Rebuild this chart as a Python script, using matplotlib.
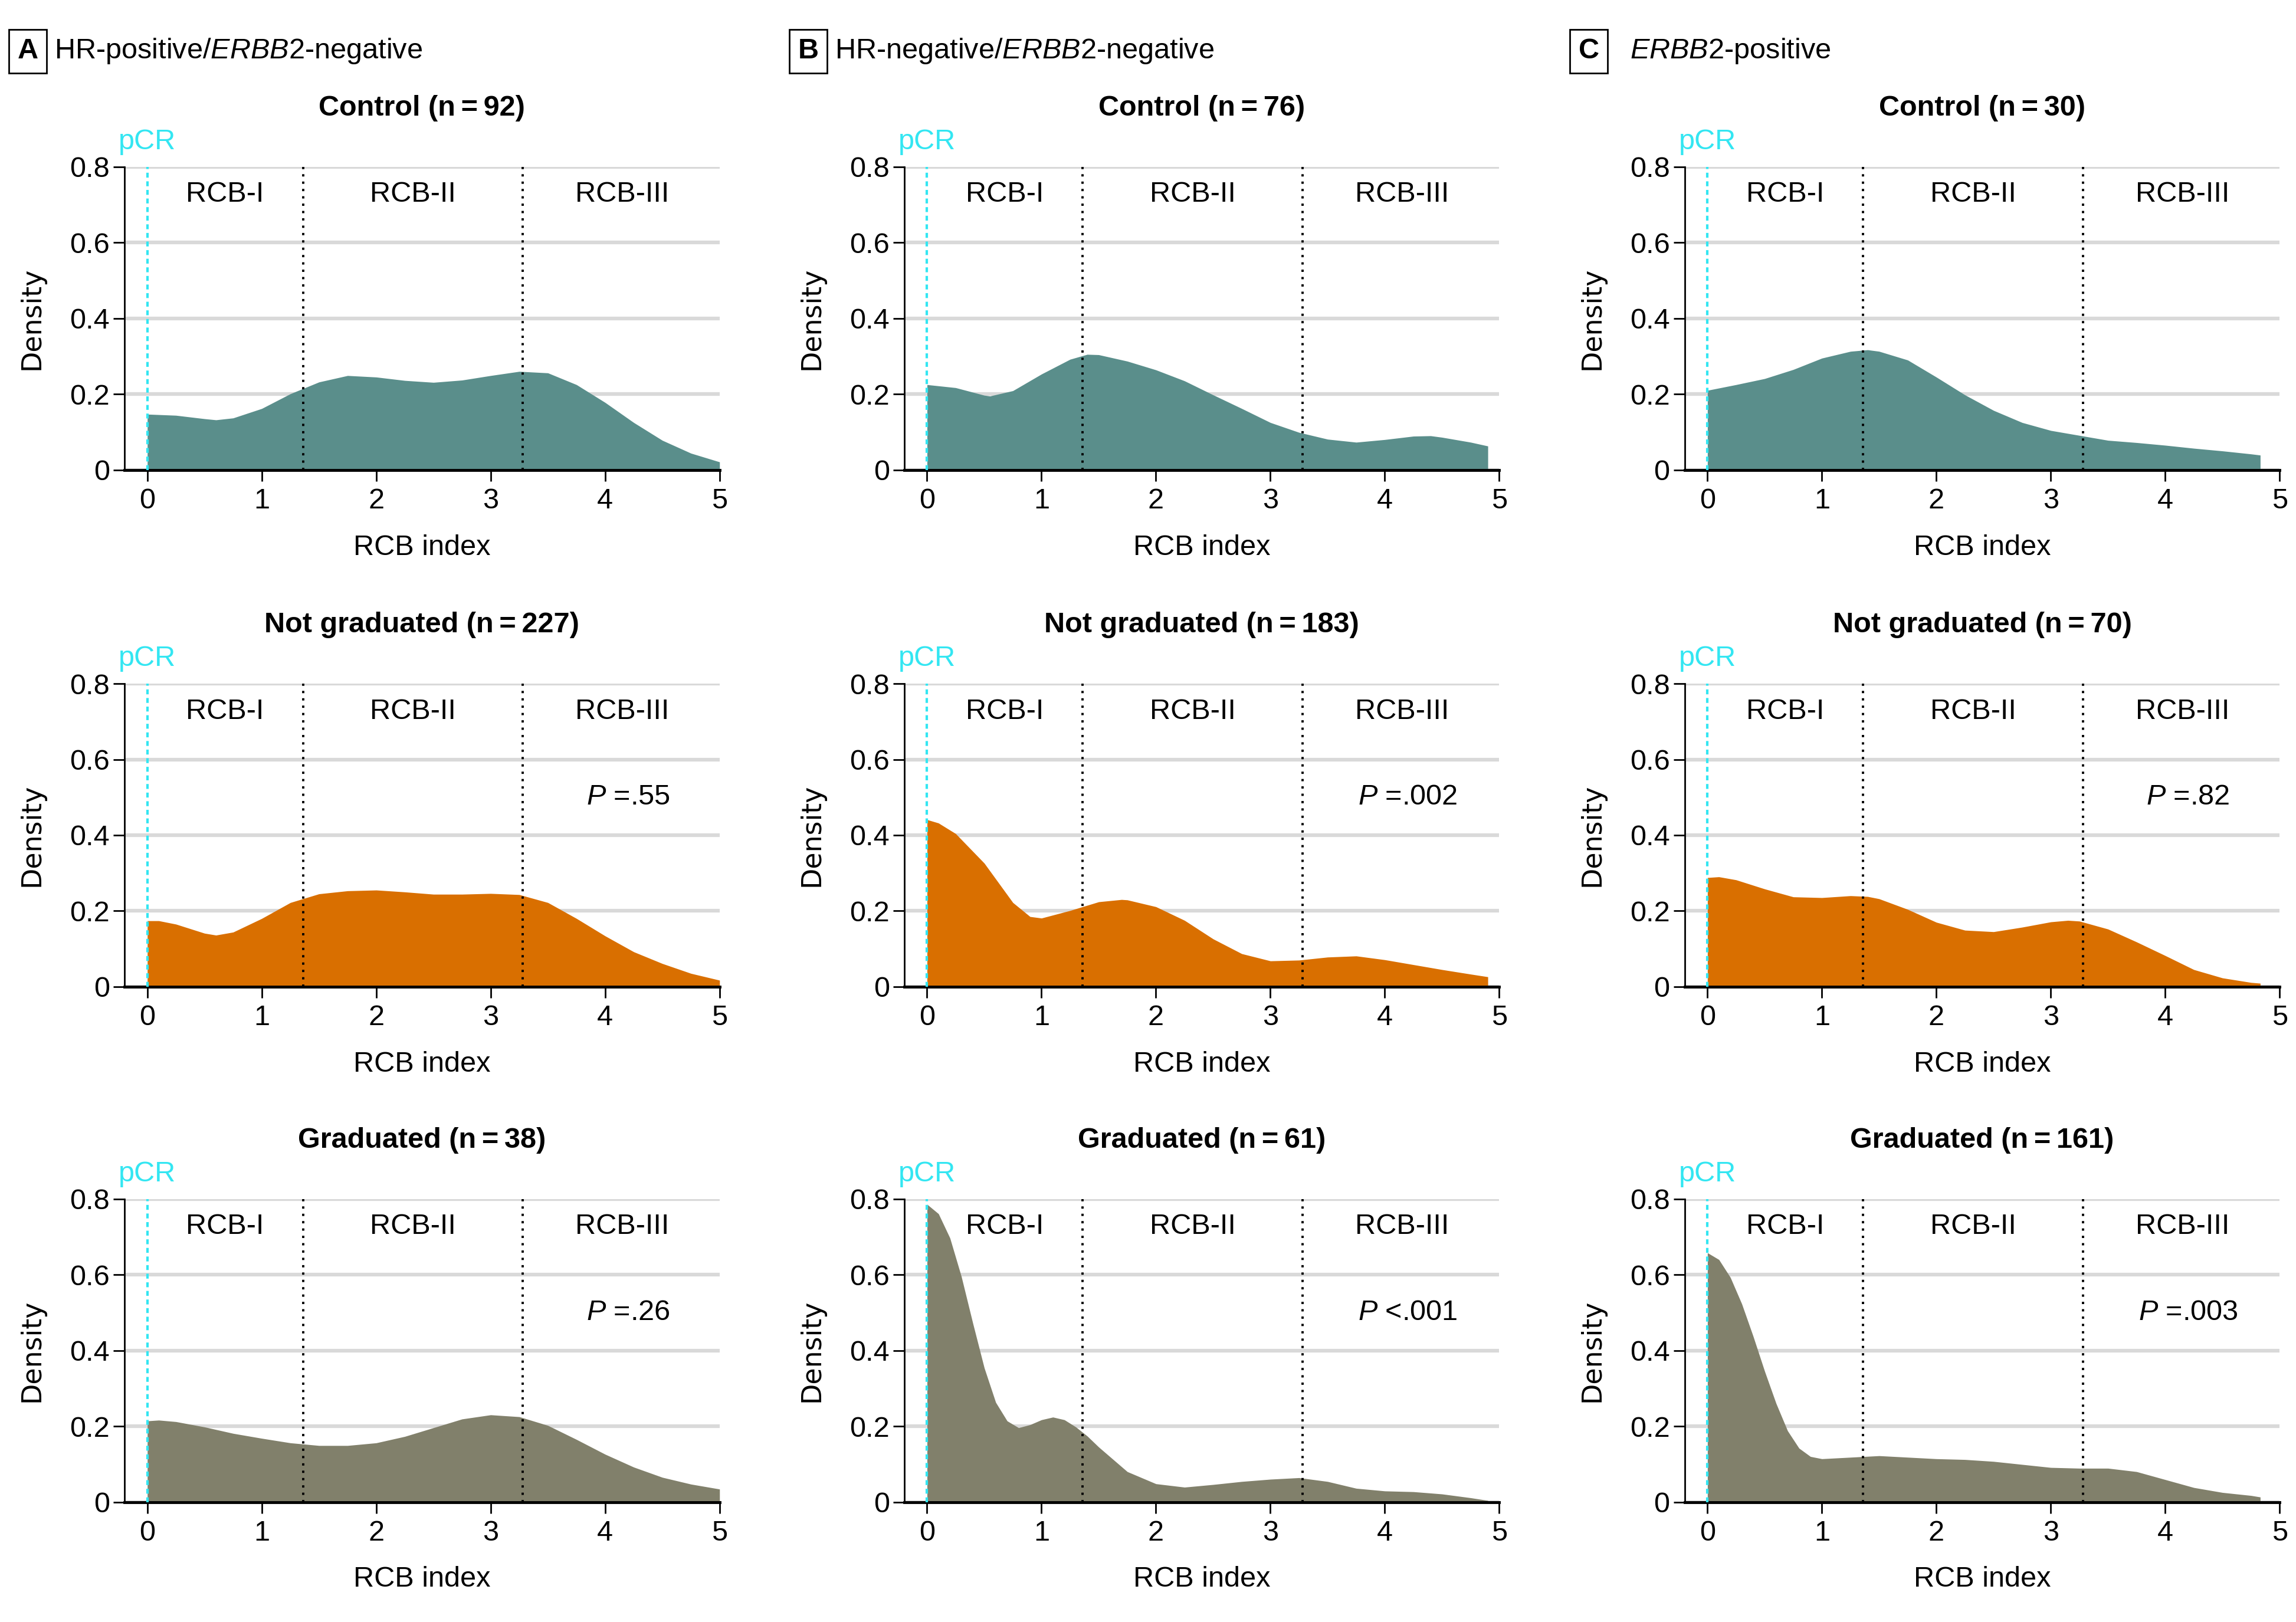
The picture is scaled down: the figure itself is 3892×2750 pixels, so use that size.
import matplotlib
matplotlib.use('Agg')
import matplotlib.pyplot as plt

plt.rcParams['font.family'] = ['Liberation Sans', 'DejaVu Sans']
plt.rcParams['mathtext.fontset'] = 'custom'
plt.rcParams['mathtext.rm'] = 'Liberation Sans'
plt.rcParams['mathtext.it'] = 'Liberation Sans:italic'
plt.rcParams['mathtext.bf'] = 'Liberation Sans:bold'

# --- data (RCB index vs density) ---
panel_titles = [r'HR-positive/$\it{ERBB2}$-negative',
                r'HR-negative/$\it{ERBB2}$-negative',
                r'$\it{ERBB2}$-positive']
panel_letters = ['A', 'B', 'C']
row_names = ['Control', 'Not graduated', 'Graduated']
n_counts = [[92, 227, 38], [76, 183, 61], [30, 70, 161]]
p_values = [[None, '=.55', '=.26'], [None, '=.002', '<.001'], [None, '=.82', '=.003']]

# A: HR+/ERBB2-
a_ctrl_x = [0, 0.25, 0.5, 0.6, 0.75, 1.0, 1.25, 1.5, 1.75, 2.0, 2.25, 2.5, 2.75, 3.0, 3.25, 3.5, 3.75, 4.0, 4.25, 4.5, 4.75, 5.0]
a_ctrl_y = [0.147, 0.144, 0.135, 0.132, 0.137, 0.162, 0.201, 0.232, 0.249, 0.245, 0.236, 0.231, 0.237, 0.249, 0.260, 0.256, 0.225, 0.178, 0.125, 0.078, 0.044, 0.021]
a_ng_x = [0, 0.1, 0.25, 0.5, 0.6, 0.75, 1.0, 1.25, 1.5, 1.75, 2.0, 2.25, 2.5, 2.75, 3.0, 3.25, 3.5, 3.75, 4.0, 4.25, 4.5, 4.75, 5.0]
a_ng_y = [0.174, 0.174, 0.165, 0.141, 0.136, 0.144, 0.180, 0.222, 0.245, 0.253, 0.255, 0.250, 0.244, 0.244, 0.246, 0.243, 0.222, 0.180, 0.134, 0.092, 0.061, 0.035, 0.017]
a_gr_x = [0, 0.1, 0.25, 0.5, 0.75, 1.0, 1.25, 1.5, 1.75, 2.0, 2.25, 2.5, 2.75, 3.0, 3.25, 3.5, 3.75, 4.0, 4.25, 4.5, 4.75, 5.0]
a_gr_y = [0.214, 0.216, 0.212, 0.198, 0.181, 0.168, 0.156, 0.149, 0.149, 0.156, 0.173, 0.196, 0.219, 0.230, 0.225, 0.202, 0.165, 0.126, 0.092, 0.065, 0.047, 0.034]

# B: HR-/ERBB2-
b_ctrl_x = [0, 0.25, 0.5, 0.55, 0.75, 1.0, 1.25, 1.4, 1.5, 1.75, 2.0, 2.25, 2.5, 2.75, 3.0, 3.25, 3.5, 3.75, 4.0, 4.25, 4.4, 4.5, 4.75, 4.9]
b_ctrl_y = [0.225, 0.217, 0.197, 0.195, 0.209, 0.253, 0.292, 0.305, 0.304, 0.287, 0.264, 0.235, 0.198, 0.162, 0.125, 0.099, 0.081, 0.073, 0.080, 0.089, 0.090, 0.086, 0.073, 0.063]
b_ng_x = [0, 0.1, 0.25, 0.5, 0.75, 0.9, 1.0, 1.25, 1.5, 1.7, 1.75, 2.0, 2.25, 2.5, 2.75, 3.0, 3.25, 3.5, 3.75, 4.0, 4.25, 4.5, 4.75, 4.9]
b_ng_y = [0.441, 0.432, 0.404, 0.326, 0.222, 0.185, 0.181, 0.201, 0.224, 0.230, 0.229, 0.211, 0.175, 0.126, 0.087, 0.068, 0.070, 0.078, 0.081, 0.071, 0.058, 0.045, 0.033, 0.026]
b_gr_x = [0, 0.1, 0.2, 0.3, 0.4, 0.5, 0.6, 0.7, 0.8, 0.9, 1.0, 1.1, 1.2, 1.3, 1.4, 1.5, 1.75, 2.0, 2.25, 2.5, 2.75, 3.0, 3.25, 3.5, 3.75, 4.0, 4.25, 4.5, 4.75, 4.9]
b_gr_y = [0.786, 0.761, 0.697, 0.595, 0.472, 0.354, 0.263, 0.214, 0.196, 0.204, 0.217, 0.224, 0.217, 0.198, 0.174, 0.145, 0.080, 0.048, 0.039, 0.046, 0.054, 0.060, 0.064, 0.054, 0.036, 0.029, 0.027, 0.021, 0.011, 0.004]

# C: ERBB2+
c_ctrl_x = [0, 0.25, 0.5, 0.75, 1.0, 1.25, 1.4, 1.5, 1.75, 2.0, 2.25, 2.5, 2.75, 3.0, 3.25, 3.5, 3.75, 4.0, 4.25, 4.5, 4.75, 4.83]
c_ctrl_y = [0.210, 0.225, 0.241, 0.265, 0.295, 0.313, 0.317, 0.313, 0.290, 0.245, 0.198, 0.157, 0.125, 0.104, 0.091, 0.078, 0.072, 0.065, 0.057, 0.050, 0.042, 0.039]
c_ng_x = [0, 0.1, 0.25, 0.5, 0.75, 1.0, 1.25, 1.4, 1.5, 1.75, 2.0, 2.25, 2.5, 2.75, 3.0, 3.15, 3.25, 3.5, 3.75, 4.0, 4.25, 4.5, 4.75, 4.83]
c_ng_y = [0.288, 0.290, 0.282, 0.258, 0.237, 0.235, 0.240, 0.238, 0.232, 0.204, 0.170, 0.149, 0.145, 0.157, 0.171, 0.175, 0.173, 0.152, 0.118, 0.082, 0.045, 0.023, 0.011, 0.009]
c_gr_x = [0, 0.1, 0.2, 0.3, 0.4, 0.5, 0.6, 0.7, 0.8, 0.9, 1.0, 1.25, 1.5, 1.75, 2.0, 2.25, 2.5, 2.75, 3.0, 3.25, 3.5, 3.75, 4.0, 4.25, 4.5, 4.75, 4.83]
c_gr_y = [0.658, 0.640, 0.593, 0.523, 0.437, 0.345, 0.260, 0.188, 0.142, 0.120, 0.114, 0.118, 0.122, 0.118, 0.114, 0.112, 0.107, 0.099, 0.091, 0.089, 0.089, 0.080, 0.059, 0.038, 0.025, 0.017, 0.013]

curves = [[(a_ctrl_x, a_ctrl_y), (a_ng_x, a_ng_y), (a_gr_x, a_gr_y)],
          [(b_ctrl_x, b_ctrl_y), (b_ng_x, b_ng_y), (b_gr_x, b_gr_y)],
          [(c_ctrl_x, c_ctrl_y), (c_ng_x, c_ng_y), (c_gr_x, c_gr_y)]]

row_colors = ['#5a8e8b', '#d96f00', '#81806b']
rcb_cuts = [1.36, 3.28]
rcb_labels = ['RCB-I', 'RCB-II', 'RCB-III']
rcb_label_x = [0.68, 2.32, 4.15]

FS = 35
fig = plt.figure(figsize=(38.92, 27.5), dpi=100)

col_left = [0.0542, 0.3938, 0.7337]
row_bottom = [0.7103, 0.3917, 0.0740]
ax_w, ax_h = 0.2592, 0.1868

for c in range(3):
    for r in range(3):
        ax = fig.add_axes([col_left[c], row_bottom[r], ax_w, ax_h])
        xs, ys = curves[c][r]
        ax.fill_between(xs, 0, ys, color=row_colors[r], lw=0, zorder=2)
        ax.set_xlim(-0.2, 5)
        ax.set_ylim(0, 0.8)
        ax.set_yticks([0, 0.2, 0.4, 0.6, 0.8])
        ax.set_yticklabels(['0', '0.2', '0.4', '0.6', '0.8'])
        ax.set_xticks([0, 1, 2, 3, 4, 5])
        ax.yaxis.grid(True, color='#d9d9d9', lw=4.5, zorder=0)
        ax.set_axisbelow(True)
        for s in ['top', 'right']:
            ax.spines[s].set_visible(False)
        ax.spines['left'].set_linewidth(2)
        ax.spines['bottom'].set_linewidth(3.5)
        ax.tick_params(axis='both', labelsize=FS, width=2, length=14)
        ax.tick_params(axis='x', pad=8)
        ax.tick_params(axis='y', pad=4)
        ax.set_xlabel('RCB index', fontsize=FS, labelpad=24)
        ax.set_ylabel('Density', fontsize=FS - 2, family='DejaVu Sans', labelpad=30)

        ax.axvline(0, color='#33e6f2', ls=(0, (2, 1.5)), lw=3, zorder=3)
        for cut in rcb_cuts:
            ax.axvline(cut, color='black', ls=(0, (1, 2.2)), lw=2.8, zorder=3)
        for lx, lab in zip(rcb_label_x, rcb_labels):
            ax.text(lx, 0.727, lab, ha='center', va='center', fontsize=FS)
        ax.text(0, 0.866, 'pCR', ha='center', va='center', fontsize=FS,
                color='#33e6f2', clip_on=False)
        ax.text(0.5, 1.193, '%s (n\u2009=\u2009%d)' % (row_names[r], n_counts[c][r]),
                transform=ax.transAxes, ha='center', va='center',
                fontsize=FS, fontweight='bold')
        if p_values[c][r] is not None:
            ax.text(4.2, 0.5, r'$\it{P}$ ' + p_values[c][r], ha='center',
                    va='center', fontsize=FS)

header_box_x = [0.0121, 0.3520, 0.6920]
header_txt_x = [0.0236, 0.3635, 0.7098]
for i in range(3):
    fig.text(header_box_x[i], 0.9684, panel_letters[i], ha='center', va='center',
             fontsize=FS, fontweight='bold',
             bbox=dict(boxstyle='square,pad=0.3', fc='white', ec='black', lw=2))
    fig.text(header_txt_x[i], 0.9684, panel_titles[i], ha='left', va='center',
             fontsize=FS)

fig.savefig('out.png', dpi=100)
